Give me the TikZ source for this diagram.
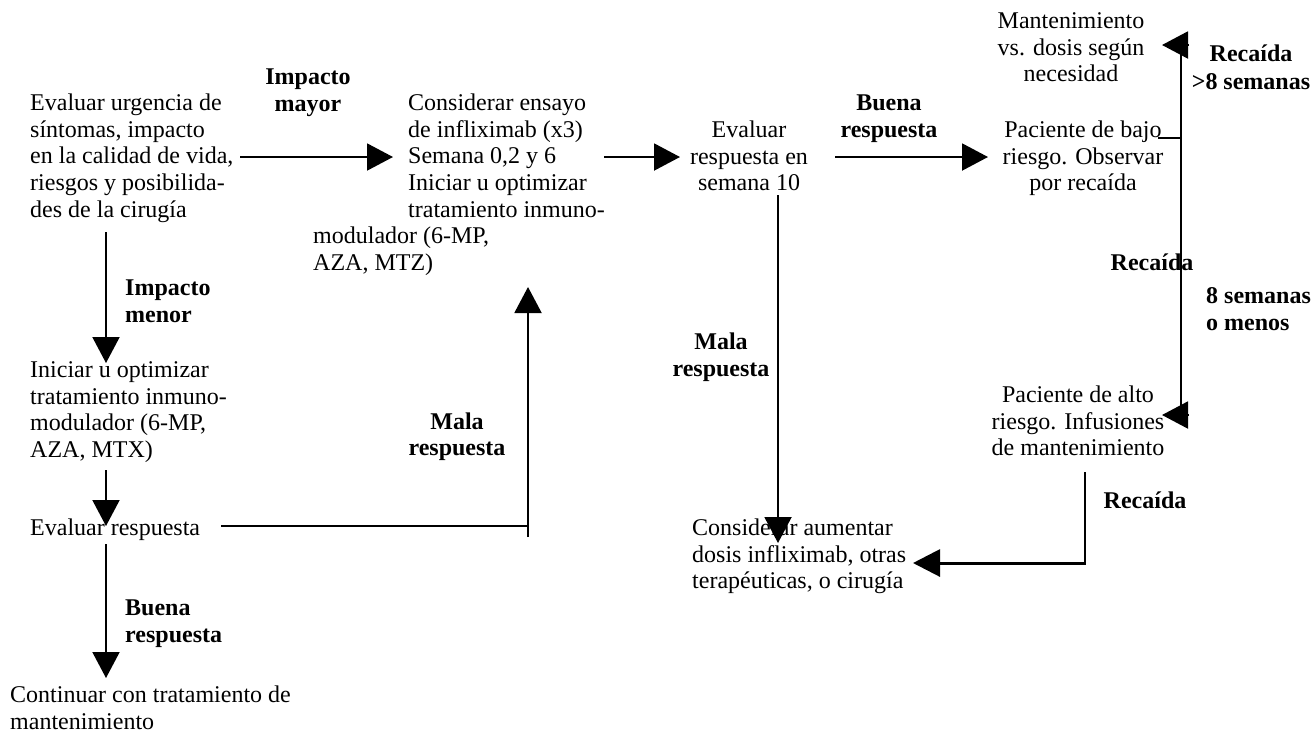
\documentclass[tikz,border=0pt]{standalone}
\usepackage{fontspec}
\setmainfont{Liberation Serif}
\usetikzlibrary{arrows.meta}
\tikzset{
  txt/.style={inner sep=0pt, font=\fontsize{24}{26.6}\selectfont},
  lbl/.style={inner sep=0pt, font=\fontsize{24}{26.6}\selectfont\bfseries},
  ln/.style={line width=2pt},
  thin/.style={line width=1.6pt},
  arr/.style={line width=2pt, -{Triangle[length=26pt,width=27pt]}},
}
\begin{document}
\begin{tikzpicture}[x=1pt,y=-1pt]
\useasboundingbox (0,0) rectangle (1314,732);

% text blocks
\node[txt, anchor=north west, align=left] (A) at (30,91.9)
  {\strut Evaluar urgencia de\\síntomas, impacto\\en la calidad de vida,\\riesgos y posibilida-\\des de la cirugía};
\node[lbl, anchor=north, align=center] (Lmayor) at (308,65.9) {\strut Impacto\\mayor};
\node[txt, anchor=north west, align=left] (C) at (408,91.9)
  {\strut Considerar ensayo\\de infliximab (x3)\\Semana 0,2 y 6\\Iniciar u optimizar\\tratamiento inmuno-\\\hspace*{-95pt}modulador (6-MP,\\\hspace*{-95pt}AZA, MTZ)};
\node[txt, anchor=north, align=center] (D) at (749,118.9) {\strut Evaluar\\respuesta en\\semana 10};
\node[lbl, anchor=north, align=center] (Lbuena1) at (889,91.9) {\strut Buena\\respuesta};
\node[txt, anchor=north, align=center] (E) at (1083,118.9) {\strut Paciente de bajo\\riesgo. Observar\\por recaída};
\node[txt, anchor=north, align=center] (F) at (1071,9.9) {\strut Mantenimiento\\vs. dosis según\\necesidad};
\node[lbl, anchor=north, align=center] (Lrec1) at (1251,42.4) {\strut Recaída\\[2pt]>8 semanas};
\node[lbl, anchor=north] (Lrec2) at (1152,251.9) {\strut Recaída};
\node[lbl, anchor=north west, align=left] (L8) at (1206,284.9) {\strut 8 semanas\\o menos};
\node[txt, anchor=north, align=center] (G) at (1078,383.9) {\strut Paciente de alto\\riesgo. Infusiones\\de mantenimiento};
\node[lbl, anchor=north] (Lrec3) at (1145,489.9) {\strut Recaída};
\node[txt, anchor=north west, align=left] (H) at (692,516.9)
  {\strut Considerar aumentar\\dosis infliximab, otras\\terapéuticas, o cirugía};
\node[lbl, anchor=north, align=center] (Lmala2) at (721,330.9) {\strut Mala\\respuesta};
\node[lbl, anchor=north, align=center] (Lmala1) at (457,410.4) {\strut Mala\\respuesta};
\node[lbl, anchor=north west, align=left] (Lmenor) at (125,276.9) {\strut Impacto\\menor};
\node[txt, anchor=north west, align=left] (I) at (30,358.9)
  {\strut Iniciar u optimizar\\tratamiento inmuno-\\modulador (6-MP,\\AZA, MTX)};
\node[txt, anchor=north west] (J) at (30,516.9) {\strut Evaluar respuesta};
\node[lbl, anchor=north west, align=left] (Lbuena2) at (125,596.9) {\strut Buena\\respuesta};
\node[txt, anchor=north west, align=left] (K) at (10,683.9)
  {\strut Continuar con tratamiento de\\mantenimiento};

% connector coordinates
\coordinate (aA) at (240,157);   \coordinate (aC) at (393,157);
\coordinate (cC) at (604,157);   \coordinate (cD) at (680,157);
\coordinate (dD) at (835,157);   \coordinate (dE) at (988,157);
\coordinate (eE) at (1158,138);  \coordinate (eV) at (1181,138);
\coordinate (vT) at (1181,50);   \coordinate (vB) at (1181,420);
\coordinate (fB) at (1189,45);   \coordinate (fF) at (1162,45);
\coordinate (gB) at (1189,415);  \coordinate (gG) at (1162,415);
\coordinate (gS) at (1085,472);  \coordinate (gC) at (1085,565);
\coordinate (hC) at (1085,563);  \coordinate (hH) at (913,563);
\coordinate (mD) at (778,195);   \coordinate (mH) at (778,543);
\coordinate (iA) at (106,232);   \coordinate (iI) at (106,363);
\coordinate (jI) at (106,470);   \coordinate (jJ) at (106,526);
\coordinate (kJ) at (106,544);   \coordinate (kK) at (106,678);
\coordinate (lJ) at (221,526);   \coordinate (lC) at (528,526);
\coordinate (lB) at (528,537);   \coordinate (lT) at (528,287);

% connectors
\draw[arr] (aA) -- (aC);
\draw[arr] (cC) -- (cD);
\draw[arr] (dD) -- (dE);
\draw[thin] (eE) -- (eV);
\draw[thin] (vT) -- (vB);
\draw[arr] (fB) -- (fF);
\draw[arr] (gB) -- (gG);
\draw[thin] (gS) -- (gC);
\draw[line width=3pt, -{Triangle[length=27pt,width=27pt]}] (hC) -- (hH);
\draw[arr] (mD) -- (mH);
\draw[arr] (iA) -- (iI);
\draw[arr] (jI) -- (jJ);
\draw[arr] (kJ) -- (kK);
\draw[ln] (lJ) -- (lC);
\draw[arr] (lB) -- (lT);
\end{tikzpicture}
\end{document}
